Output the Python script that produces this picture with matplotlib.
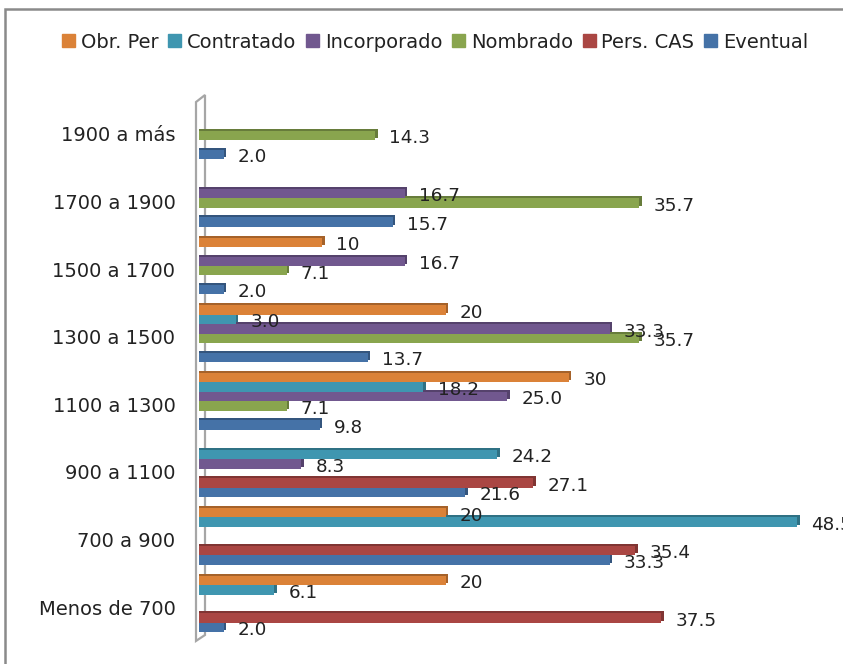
import numpy as np
import matplotlib
matplotlib.use('Agg')
import matplotlib.pyplot as plt
from matplotlib.patches import Rectangle, Polygon

W, H = 843, 664

categories = ['Menos de 700', '700 a 900', '900 a 1100', '1100 a 1300',
              '1300 a 1500', '1500 a 1700', '1700 a 1900', '1900 a más']
# bottom to top within each group, None where there is no bar
eventual = [2.0, 33.3, 21.6, 9.8, 13.7, 2.0, 15.7, 2.0]
pers_cas = [37.5, 35.4, 27.1, None, None, None, None, None]
nombrado = [None, None, None, 7.1, 35.7, 7.1, 35.7, 14.3]
incorporado = [None, None, 8.3, 25.0, 33.3, 16.7, 16.7, None]
contratado = [6.1, 48.5, 24.2, 18.2, 3.0, None, None, None]
obr_per = [20, 20, None, 30, 20, 10, None, None]

series = [('Eventual', eventual, '#4572A7', '#34557D', '{:.1f}'),
          ('Pers. CAS', pers_cas, '#AA4643', '#803533', '{:.1f}'),
          ('Nombrado', nombrado, '#89A54E', '#677C3B', '{:.1f}'),
          ('Incorporado', incorporado, '#71588F', '#55426C', '{:.1f}'),
          ('Contratado', contratado, '#3F96B0', '#2F7184', '{:.1f}'),
          ('Obr. Per', obr_per, '#DB8238', '#A5622A', '{:.0f}')]

fig = plt.figure(figsize=(W / 100, H / 100), dpi=100)

# outer chart frame, runs off the right and bottom of the picture
fig.add_artist(Rectangle((5 / W, -0.1), 1.1, 1.1 - 9 / H, transform=fig.transFigure,
                         fill=False, ec='#8a8a8a', lw=1.8))

px_per_unit = 12.33
ax = fig.add_axes([199 / W, 1 - 640 / H, (W - 199) / W, 540 / H])
ax.set_xlim(0, (W - 199) / px_per_unit)
ax.set_ylim(-0.533, 7.456)
ax.patch.set_alpha(0)
for s in ax.spines.values():
    s.set_visible(False)

y = np.arange(len(categories))
slot = 0.14
dx = 2.5 / px_per_unit
dy = 2.0 / 67.6

# thin 3D wall at the left of the bars
wall = [(-3 / px_per_unit, -0.547), (-3 / px_per_unit, 7.426), (6 / px_per_unit, 7.53),
        (6 / px_per_unit, -0.459)]
ax.add_patch(Polygon(wall, closed=True, fc='white', ec='#a6a6a6', lw=1.6, clip_on=False, zorder=1))

for k, (name, vals, col, dark, fmt) in enumerate(series):
    ypos = y + (k - 2.5) * slot
    for yy, v in zip(ypos, vals):
        if v is None:
            continue
        # darker bar behind gives the side and top faces
        ax.barh(yy + dy, v + dx, height=slot, color=dark, zorder=2 + k * 2, left=0)
        ax.barh(yy, v, height=slot, color=col, zorder=3 + k * 2, left=0)
        ax.annotate(fmt.format(v), (v, yy), xytext=(10.2, -2), textcoords='offset points',
                    fontsize=13.2, color='#222222', va='center', ha='left', zorder=30,
                    annotation_clip=False)

ax.set_xticks([])
ax.set_yticks(y - 0.045)
ax.set_yticklabels(categories, fontsize=14, color='#222222')
ax.tick_params(axis='y', length=0, pad=17)

handles = [Rectangle((0, 0), 1, 1, color=s[2]) for s in series[::-1]]
labels = [s[0] for s in series[::-1]]
fig.legend(handles, labels, loc='center', bbox_to_anchor=(435 / W, 1 - 42 / H), ncol=6,
           frameon=False, fontsize=14, labelcolor='#222222', handlelength=0.67, handleheight=0.67,
           handletextpad=0.3, columnspacing=0.5)

fig.savefig('out.png', dpi=100)
